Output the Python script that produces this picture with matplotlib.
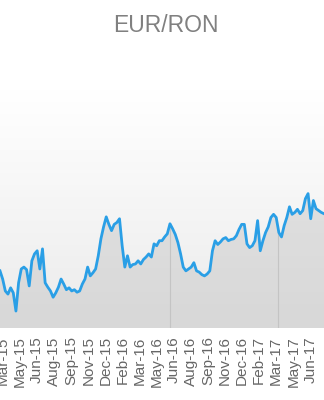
import numpy as np
import pandas as pd
import matplotlib
matplotlib.use("Agg")
import matplotlib.pyplot as plt
from matplotlib.colors import LinearSegmentedColormap

# ---- Data (EUR/RON, weekly) ----
START_DATE = "2015-03-23"
rates = [
    4.452, 4.439, 4.420, 4.415, 4.425, 4.417, 4.388, 4.433, 4.455, 4.458,
    4.454, 4.428, 4.468, 4.479, 4.484, 4.455, 4.487, 4.433, 4.426, 4.420,
    4.410, 4.417, 4.426, 4.439, 4.431, 4.422, 4.425, 4.420, 4.422, 4.418,
    4.420, 4.431, 4.439, 4.458, 4.444, 4.449, 4.455, 4.476, 4.503, 4.522,
    4.538, 4.526, 4.516, 4.526, 4.529, 4.535, 4.492, 4.458, 4.476, 4.458,
    4.462, 4.463, 4.468, 4.463, 4.470, 4.474, 4.479, 4.474, 4.495, 4.492,
    4.500, 4.500, 4.506, 4.511, 4.527, 4.519, 4.510, 4.497, 4.479, 4.458,
    4.452, 4.455, 4.458, 4.465, 4.452, 4.450, 4.446, 4.444, 4.447, 4.452,
    4.484, 4.500, 4.494, 4.498, 4.503, 4.505, 4.500, 4.502, 4.503, 4.508,
    4.518, 4.526, 4.526, 4.495, 4.489, 4.492, 4.500, 4.532, 4.484, 4.500,
    4.513, 4.522, 4.537, 4.542, 4.537, 4.513, 4.506, 4.524, 4.537, 4.554,
    4.542, 4.545, 4.550, 4.543, 4.548, 4.567, 4.575, 4.535, 4.564, 4.551,
    4.548, 4.545, 4.543,
]
tick_labels = [
    "Mar-15", "May-15", "Jun-15", "Aug-15", "Sep-15", "Nov-15", "Dec-15",
    "Feb-16", "Mar-16", "May-16", "Jun-16", "Aug-16", "Sep-16", "Nov-16",
    "Dec-16", "Feb-17", "Mar-17", "May-17", "Jun-17", "Jul-17",
]
TICK_START = "2015-03-31"
marker_dates = ["2016-06-13", "2017-03-24"]

LINE_COLOR = "#2a9fe6"
TEXT_COLOR = "#666666"


def main():
    plt.rcParams["font.family"] = ["Liberation Sans", "DejaVu Sans"]

    dates = pd.date_range(START_DATE, periods=len(rates), freq="7D")
    values = np.array(rates)
    ymin, ymax = 4.361, 4.74

    fig = plt.figure(figsize=(3.24, 4.0), dpi=100)
    ax = fig.add_axes([0.0, 0.18, 1.0, 0.595])

    # background gradient (white at top -> light gray at bottom)
    cmap = LinearSegmentedColormap.from_list("bg", ["#ffffff", "#ebebeb"])
    grad = np.linspace(0, 1, 256).reshape(-1, 1)
    ax.imshow(grad, cmap=cmap, aspect="auto", extent=[0, 1, 0, 1],
              origin="upper", transform=ax.transAxes, zorder=0)

    ax.fill_between(dates, values, ymin, color="#b5b5b5", alpha=0.35,
                    linewidth=0, zorder=1)

    # thin separators under the line
    for d in pd.to_datetime(marker_dates):
        top = np.interp(d.value, dates.asi8, values)
        ax.vlines(d, ymin, top, color="#c4c4c4", linewidth=0.8, zorder=2)

    ax.plot(dates, values, color=LINE_COLOR, linewidth=2.0, zorder=3,
            solid_joinstyle="round")

    tick_pos = pd.date_range(TICK_START, periods=len(tick_labels), freq="45D")
    ax.set_xticks(tick_pos)
    ax.set_xticklabels(tick_labels, rotation=90, fontsize=11, color=TEXT_COLOR)
    ax.tick_params(axis="x", length=0, pad=6)
    ax.set_yticks([])

    ax.set_xlim(dates[0], dates[-1])
    ax.set_ylim(ymin, ymax)
    for spine in ax.spines.values():
        spine.set_visible(False)

    fig.text(0.513, 0.935, "EUR/RON", ha="center", va="center",
             fontsize=16.5, color="#808080")

    fig.savefig("out.png", dpi=100)


if __name__ == "__main__":
    main()
